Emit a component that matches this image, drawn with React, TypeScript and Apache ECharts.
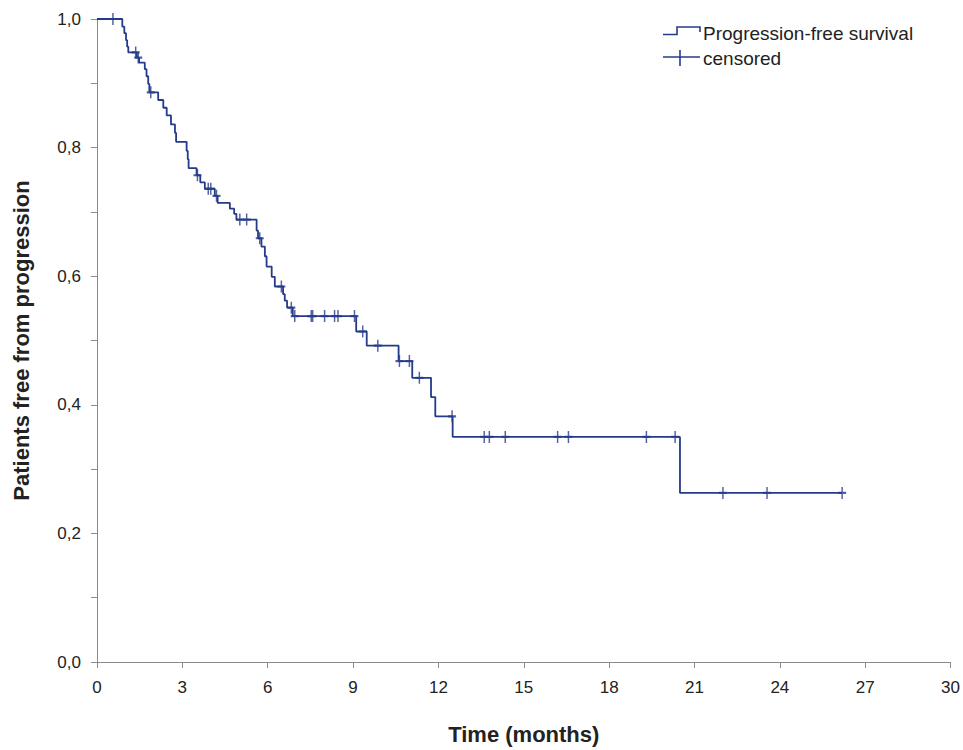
import React, { useEffect, useRef } from "react";
import * as echarts from "echarts";

// Kaplan–Meier step points: time (months) and survival after each step
const stepTimes = [
  0, 0.89, 0.96, 1.02, 1.06, 1.1, 1.4, 1.48, 1.68, 1.74, 1.8, 1.84, 2.15, 2.33,
  2.45, 2.6, 2.74, 2.78, 3.15, 3.19, 3.22, 3.5, 3.63, 3.79, 4.14, 4.24, 4.67,
  4.82, 4.9, 5.61, 5.66, 5.78, 5.9, 5.96, 6.14, 6.25, 6.54, 6.6, 6.68, 6.88,
  9.11, 9.48, 10.6, 11.08, 11.74, 11.89, 12.5, 20.49, 26.19,
];
const stepSurvival = [
  1.0, 0.988, 0.978, 0.967, 0.957, 0.948, 0.94, 0.932, 0.922, 0.911, 0.899,
  0.886, 0.874, 0.862, 0.85, 0.836, 0.823, 0.809, 0.795, 0.782, 0.768, 0.757,
  0.746, 0.736, 0.725, 0.714, 0.705, 0.697, 0.688, 0.671, 0.659, 0.646, 0.631,
  0.615, 0.599, 0.584, 0.572, 0.562, 0.551, 0.538, 0.514, 0.492, 0.468, 0.442,
  0.412, 0.382, 0.35, 0.263, 0.263,
];

// Censored observations
const censorTimes = [
  0.56, 1.36, 1.45, 1.89, 3.53, 3.91, 4.0, 4.2, 5.02, 5.26, 5.72, 6.48, 6.83,
  6.95, 7.53, 7.58, 8.0, 8.35, 8.47, 9.05, 9.34, 9.87, 10.63, 10.98, 11.33,
  12.48, 13.61, 13.79, 14.35, 16.19, 16.57, 19.31, 20.32, 22.0, 23.55, 26.19,
];
const censorSurvival = [
  1.0, 0.948, 0.94, 0.886, 0.757, 0.736, 0.736, 0.725, 0.688, 0.688, 0.659,
  0.584, 0.551, 0.538, 0.538, 0.538, 0.538, 0.538, 0.538, 0.538, 0.514, 0.492,
  0.468, 0.468, 0.442, 0.382, 0.35, 0.35, 0.35, 0.35, 0.35, 0.35, 0.35, 0.263,
  0.263, 0.263,
];

const seriesNames = ["Progression-free survival", "censored"];
const xTitle = "Time (months)";
const yTitle = "Patients free from progression";

const LINE = "#253b8a";
const AXIS = "#8a8a8a";
const TEXT = "#222222";
const FONT = "'Liberation Sans', Arial, sans-serif";

export default function App() {
  const ref = useRef<HTMLDivElement>(null);

  useEffect(() => {
    if (!ref.current) return;
    const chart = echarts.init(ref.current, undefined, { renderer: "svg" });

    const stepData = stepTimes.map((t, i) => [t, stepSurvival[i]]);
    const censorData = censorTimes.map((t, i) => [t, censorSurvival[i]]);

    chart.setOption({
      animation: false,
      backgroundColor: "#ffffff",
      textStyle: { fontFamily: FONT },
      grid: { left: 97, top: 19, width: 855, height: 644 },
      xAxis: {
        type: "value",
        min: 0,
        max: 30,
        interval: 3,
        name: xTitle,
        nameLocation: "middle",
        nameGap: 61,
        nameTextStyle: { fontSize: 22, fontWeight: "bold", color: TEXT, fontFamily: FONT },
        axisLine: { show: true, lineStyle: { color: AXIS, width: 1 } },
        axisTick: { show: true, length: 6, lineStyle: { color: AXIS } },
        axisLabel: { fontSize: 17, color: TEXT, margin: 17, fontFamily: FONT },
        splitLine: { show: false },
      },
      yAxis: {
        type: "value",
        min: 0,
        max: 1,
        interval: 0.1,
        name: yTitle,
        nameLocation: "middle",
        nameGap: 65,
        nameRotate: 90,
        nameTextStyle: { fontSize: 22, fontWeight: "bold", color: TEXT, fontFamily: FONT },
        axisLine: { show: true, lineStyle: { color: AXIS, width: 1 } },
        axisTick: { show: true, length: 6, lineStyle: { color: AXIS } },
        axisLabel: {
          fontSize: 17,
          color: TEXT,
          margin: 16,
          fontFamily: FONT,
          formatter: (v: number) => {
            const k = Math.round(v * 10);
            return k % 2 === 0 ? (k / 10).toFixed(1).replace(".", ",") : "";
          },
        },
        splitLine: { show: false },
      },
      series: [
        {
          name: seriesNames[0],
          type: "line",
          step: "end",
          data: stepData,
          showSymbol: false,
          symbol: "none",
          lineStyle: { color: LINE, width: 1.8 },
          z: 2,
        },
        {
          name: seriesNames[1],
          type: "scatter",
          data: censorData,
          symbol: "path://M4,0 L4,12 M0,6 L8,6",
          symbolSize: [8, 12],
          itemStyle: { color: "rgba(0,0,0,0)", borderColor: LINE, borderWidth: 1.8 },
          z: 3,
        },
      ],
      graphic: [
        {
          type: "polyline",
          shape: { points: [[663, 34.5], [677, 34.5], [677, 27], [700, 27], [700, 32]] },
          style: { stroke: LINE, lineWidth: 1.6, fill: "none" },
        },
        {
          type: "text",
          x: 703,
          y: 33,
          style: { text: seriesNames[0], fontSize: 19, fill: TEXT, fontFamily: FONT, verticalAlign: "middle" },
        },
        {
          type: "line",
          shape: { x1: 663, y1: 57, x2: 700, y2: 57 },
          style: { stroke: LINE, lineWidth: 1.6 },
        },
        {
          type: "line",
          shape: { x1: 680, y1: 50, x2: 680, y2: 66 },
          style: { stroke: LINE, lineWidth: 1.6 },
        },
        {
          type: "text",
          x: 703,
          y: 58,
          style: { text: seriesNames[1], fontSize: 19, fill: TEXT, fontFamily: FONT, verticalAlign: "middle" },
        },
      ],
    });

    return () => chart.dispose();
  }, []);

  return (
    <div
      ref={ref}
      style={{ position: "absolute", left: 0, top: 0, width: 963, height: 750 }}
    />
  );
}
